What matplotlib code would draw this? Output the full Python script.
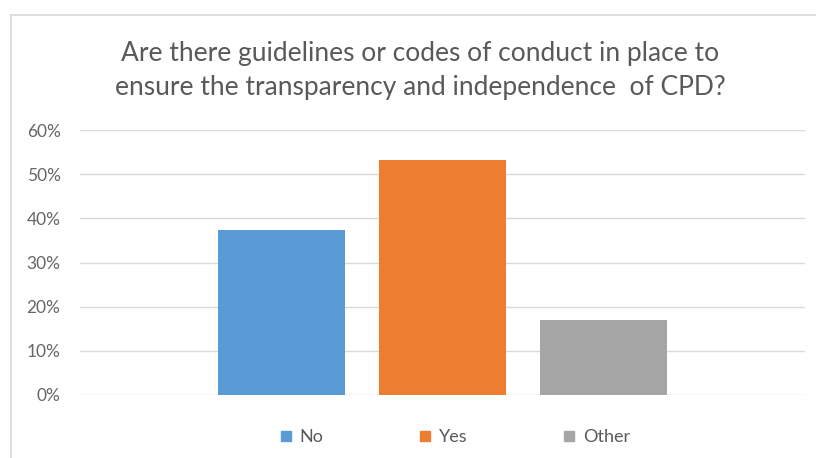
import matplotlib.pyplot as plt
from matplotlib.ticker import PercentFormatter
from matplotlib.lines import Line2D

categories = ['No', 'Yes', 'Other']
shares = [37.5, 53.2, 17.0]
colors = ['#5B9BD5', '#ED7D31', '#A5A5A5']
yticks = [0, 10, 20, 30, 40, 50, 60]

plt.rcParams['font.family'] = ['Lato', 'DejaVu Sans']

fig = plt.figure(figsize=(8.16, 4.58), dpi=100)
ax = fig.add_axes([0.098, 0.1376, 0.8885, 0.578])

x = list(range(len(categories)))
ax.bar(x, shares, width=0.79, color=colors, zorder=3)

ax.set_xlim(-1.25, 3.25)
ax.set_ylim(0, 60)
ax.set_yticks(yticks)
ax.yaxis.set_major_formatter(PercentFormatter(decimals=0))
ax.set_xticks([])
ax.grid(axis='y', color='#D9D9D9', linewidth=1, zorder=0)
ax.tick_params(axis='y', length=0, pad=14, labelsize=12.5, labelcolor='#666666')
for s in ax.spines.values():
    s.set_visible(False)

fig.text(0.515, 0.847, 'Are there guidelines or codes of conduct in place to\n'
         'ensure the transparency and independence  of CPD?',
         ha='center', va='center', fontsize=19, color='#595959', linespacing=1.45)

handles = [Line2D([], [], marker='s', linestyle='', markersize=7.5,
                  color=c) for c in colors]
fig.legend(handles, categories, loc='center', bbox_to_anchor=(0.556, 0.045),
           ncol=3, frameon=False, fontsize=13, labelcolor='#595959',
           handletextpad=0.3, columnspacing=5.2, handlelength=0.9)

# chart area border (top and left edges visible in the crop)
fig.add_artist(Line2D([0.0135, 1.0], [1 - 15 / 458] * 2, color='#D9D9D9',
                      linewidth=1.2, transform=fig.transFigure))
fig.add_artist(Line2D([0.0135] * 2, [0.0, 1 - 15 / 458], color='#D9D9D9',
                      linewidth=1.2, transform=fig.transFigure))

fig.savefig('out.png', dpi=100, facecolor='white')
